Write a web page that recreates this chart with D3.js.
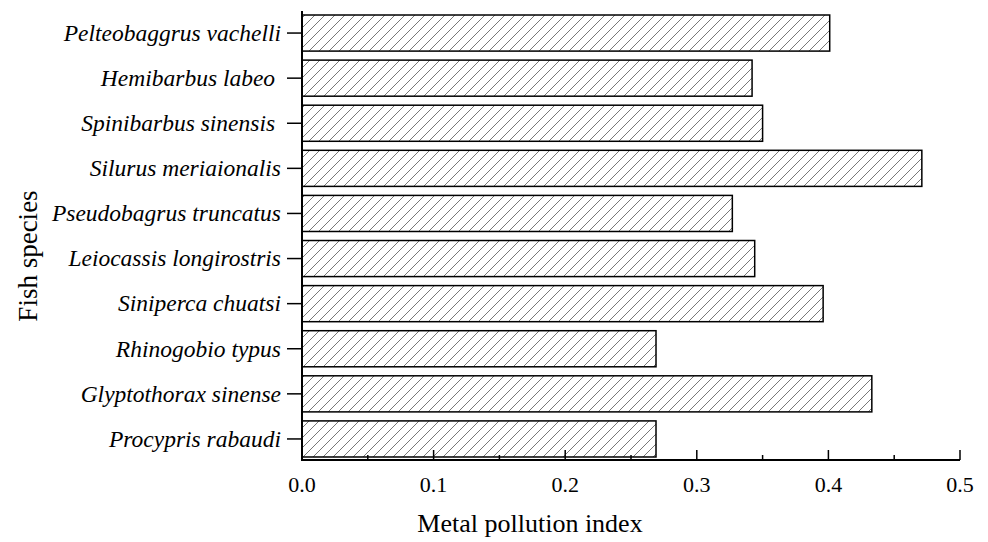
<!DOCTYPE html>
<html>
<head>
<meta charset="utf-8">
<script src="https://cdn.jsdelivr.net/npm/d3@7"></script>
<style>
  body { margin: 0; background: #fff; }
  svg { display: block; }
  text { white-space: pre; }
</style>
</head>
<body>
<svg width="988" height="542"></svg>
<script>
// trailing spaces kept as in the original labels
const species = [
  "Pelteobaggrus vachelli",
  "Hemibarbus labeo ",
  "Spinibarbus sinensis ",
  "Silurus meriaionalis",
  "Pseudobagrus truncatus",
  "Leiocassis longirostris",
  "Siniperca chuatsi",
  "Rhinogobio typus",
  "Glyptothorax sinense",
  "Procypris rabaudi"
];
const mpi = [0.401, 0.342, 0.350, 0.471, 0.327, 0.344, 0.396, 0.269, 0.433, 0.269];
const xTicks = [0, 0.1, 0.2, 0.3, 0.4, 0.5];

const svg = d3.select("svg");
const font = "'Liberation Serif', 'Times New Roman', serif";

const x = d3.scaleLinear().domain([0, 0.5]).range([302, 960]);
const y = d3.scaleBand().domain(species).range([10.5, 461.5]).paddingInner(0.2).paddingOuter(0.1);

// hatch pattern
const defs = svg.append("defs");
const pat = defs.append("pattern")
  .attr("id", "hatch")
  .attr("patternUnits", "userSpaceOnUse")
  .attr("width", 10).attr("height", 10);
pat.append("rect").attr("width", 10).attr("height", 10).attr("fill", "#fff");
pat.append("path")
  .attr("d", "M-2,2 L2,-2 M0,10 L10,0 M8,12 L12,8")
  .attr("stroke", "#555").attr("stroke-width", 0.8);

// bars
svg.append("g").selectAll("rect")
  .data(species)
  .enter()
  .append("rect")
  .attr("x", x(0))
  .attr("y", d => y(d))
  .attr("width", (d, i) => x(mpi[i]) - x(0))
  .attr("height", y.bandwidth())
  .attr("fill", "url(#hatch)")
  .attr("stroke", "#000")
  .attr("stroke-width", 1.5);

// x axis
const axisY = 460;
const gx = svg.append("g");
gx.append("line")
  .attr("x1", x(0)).attr("x2", x(0.5))
  .attr("y1", axisY).attr("y2", axisY)
  .attr("stroke", "#000").attr("stroke-width", 2);
gx.selectAll(".major")
  .data(xTicks)
  .enter()
  .append("line")
  .attr("x1", d => x(d)).attr("x2", d => x(d))
  .attr("y1", axisY).attr("y2", axisY - 10)
  .attr("stroke", "#000").attr("stroke-width", 1.5);
gx.selectAll(".minor")
  .data(d3.range(0.05, 0.5, 0.1))
  .enter()
  .append("line")
  .attr("x1", d => x(d)).attr("x2", d => x(d))
  .attr("y1", axisY).attr("y2", axisY - 5)
  .attr("stroke", "#000").attr("stroke-width", 1.5);
gx.selectAll("text")
  .data(xTicks)
  .enter()
  .append("text")
  .attr("x", d => x(d))
  .attr("y", 492)
  .attr("text-anchor", "middle")
  .style("font-family", font)
  .style("font-size", "22px")
  .text(d => d3.format(".1f")(d));

// y axis
const gy = svg.append("g");
gy.append("line")
  .attr("x1", x(0)).attr("x2", x(0))
  .attr("y1", 11).attr("y2", axisY + 1)
  .attr("stroke", "#000").attr("stroke-width", 2);
gy.selectAll("line.tick")
  .data(species)
  .enter()
  .append("line")
  .attr("class", "tick")
  .attr("x1", x(0)).attr("x2", x(0) - 15)
  .attr("y1", d => y(d) + y.bandwidth() / 2)
  .attr("y2", d => y(d) + y.bandwidth() / 2)
  .attr("stroke", "#000").attr("stroke-width", 1.5);
gy.selectAll("text")
  .data(species)
  .enter()
  .append("text")
  .attr("x", 281)
  .attr("y", d => y(d) + y.bandwidth() / 2)
  .attr("dy", "0.33em")
  .attr("text-anchor", "end")
  .style("font-family", font)
  .style("font-style", "italic")
  .style("font-size", "23.5px")
  .text(d => d);

// axis titles
svg.append("text")
  .attr("x", 530).attr("y", 532)
  .attr("text-anchor", "middle")
  .style("font-family", font)
  .style("font-size", "26px")
  .text("Metal pollution index");

svg.append("text")
  .attr("transform", "translate(37,256) rotate(-90)")
  .attr("text-anchor", "middle")
  .style("font-family", font)
  .style("font-size", "27px")
  .text("Fish species");
</script>
</body>
</html>
